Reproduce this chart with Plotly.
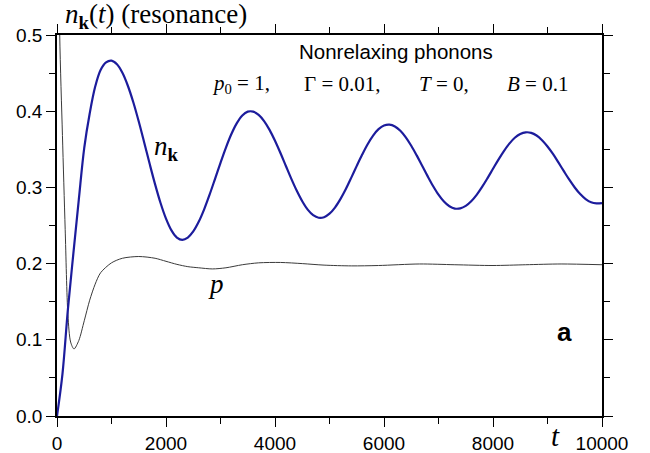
import plotly.graph_objects as go

# ---- data ----
t_n = list(range(0, 10001, 100))
n_k = [0.0, 0.055, 0.140, 0.213, 0.284, 0.352, 0.397, 0.432, 0.454, 0.464,
       0.4663, 0.4615, 0.4504, 0.4334, 0.4117, 0.3864, 0.3590, 0.3309, 0.3040, 0.2795,
       0.2590, 0.2436, 0.2342, 0.2312, 0.2342, 0.2422, 0.2548, 0.2712, 0.2905, 0.3113,
       0.3323, 0.3523, 0.3700, 0.3843, 0.3944, 0.3994, 0.3994, 0.3951, 0.3870, 0.3755,
       0.3612, 0.3451, 0.3281, 0.3112, 0.2955, 0.2818, 0.2708, 0.2636, 0.2602, 0.2609,
       0.2655, 0.2735, 0.2846, 0.2979, 0.3128, 0.3282, 0.3431, 0.3567, 0.3680, 0.3764,
       0.3813, 0.3824, 0.3800, 0.3743, 0.3657, 0.3547, 0.3420, 0.3284, 0.3148, 0.3019,
       0.2905, 0.2814, 0.2752, 0.2722, 0.2725, 0.2757, 0.2818, 0.2902, 0.3006, 0.3122,
       0.3244, 0.3365, 0.3477, 0.3574, 0.3651, 0.3701, 0.3723, 0.3716, 0.3681, 0.3620,
       0.3537, 0.3439, 0.3328, 0.3213, 0.3101, 0.2999, 0.2912, 0.2846, 0.2804, 0.2790,
       0.2795]

t_p = [0, 25, 50, 100, 150, 200, 250, 312, 400, 500, 600, 700, 800, 1000,
       1200, 1500, 1800, 2000, 2200, 2400, 2600, 2850, 3100, 3400, 3700,
       4100, 4500, 4900, 5400, 5900, 6650, 7300, 8000, 8600, 9250, 10000]
p = [1.0, 0.72, 0.50, 0.368, 0.245, 0.133, 0.097, 0.088, 0.099, 0.125,
     0.152, 0.173, 0.188, 0.201, 0.207, 0.2093, 0.207, 0.203, 0.199, 0.196,
     0.1945, 0.193, 0.1945, 0.1985, 0.201, 0.2015, 0.200, 0.198, 0.197,
     0.1975, 0.1995, 0.1985, 0.1975, 0.1985, 0.1995, 0.1985]

x_ticks = [0, 2000, 4000, 6000, 8000, 10000]
y_ticks = [0.0, 0.1, 0.2, 0.3, 0.4, 0.5]
y_tick_labels = ["0.0", "0.1", "0.2", "0.3", "0.4", "0.5"]

# ---- layout geometry (pixels) ----
W, H = 650, 453
L, R, T, B = 57, 48, 35, 37
X0, X1, Y0, Y1 = L, W - R, T, H - B

def px(x):
    return (x - X0) / (X1 - X0)

def py(y):
    return (Y1 - y) / (Y1 - Y0)

SERIF = "Liberation Serif"
SANS = "Liberation Sans"

fig = go.Figure()
fig.add_trace(go.Scatter(x=t_p, y=p, mode="lines",
                         line=dict(color="#3a3a3a", width=1, shape="spline", smoothing=0.8),
                         hoverinfo="skip", showlegend=False))
fig.add_trace(go.Scatter(x=t_n, y=n_k, mode="lines",
                         line=dict(color="#1c1c9c", width=2.2, shape="spline", smoothing=1.0),
                         hoverinfo="skip", showlegend=False))

axis_common = dict(showline=True, linecolor="black", linewidth=1.5, mirror="allticks",
                   ticks="outside", ticklen=9, tickwidth=1.3, tickcolor="black",
                   showgrid=False, zeroline=False, automargin=False,
                   tickfont=dict(family=SANS, size=19, color="black"))

fig.update_xaxes(range=[0, 10000], tickvals=x_ticks, ticktext=[str(v) for v in x_ticks],
                 minor=dict(dtick=1000, tick0=0, ticks="outside", ticklen=6, tickwidth=1.2,
                            tickcolor="black", showgrid=False),
                 **axis_common)
fig.update_yaxes(range=[0, 0.5], tickvals=y_ticks, ticktext=y_tick_labels,
                 minor=dict(dtick=0.05, tick0=0, ticks="outside", ticklen=6, tickwidth=1.2,
                            tickcolor="black", showgrid=False),
                 **axis_common)

ann = []
def add(text, x, y, size, family=SERIF, xanchor="center", yanchor="middle"):
    ann.append(dict(text=text, x=px(x), y=py(y), xref="paper", yref="paper",
                    showarrow=False, xanchor=xanchor, yanchor=yanchor,
                    font=dict(family=family, size=size, color="black")))

add("<i>n</i><sub><b>k</b></sub>(<i>t</i>) (resonance)", 63, 16, 27, xanchor="left")
add("Nonrelaxing phonons", 396, 52, 20.5, family=SANS)
add("<i>p</i><sub>0</sub> = 1,", 241, 84, 21)
add("Γ = 0.01,", 342, 84, 21)
add("<i>T</i> = 0,", 444, 84, 21)
add("<i>B</i> = 0.1", 537, 84, 21)
add("<i>n</i><sub><b>k</b></sub>", 166, 148, 27)
add("<i>p</i>", 216, 284, 27)
add("<b>a</b>", 564, 332, 26, family=SANS)
add("<i>t</i>", 555, 436, 29)

fig.update_layout(width=W, height=H, autosize=False,
                  margin=dict(l=L, r=R, t=T, b=B, pad=0, autoexpand=False),
                  plot_bgcolor="white", paper_bgcolor="white",
                  annotations=ann)

fig.write_html("out.html", config={"displayModeBar": False},
               post_script="document.body.style.margin='0';document.body.style.overflow='hidden';")
